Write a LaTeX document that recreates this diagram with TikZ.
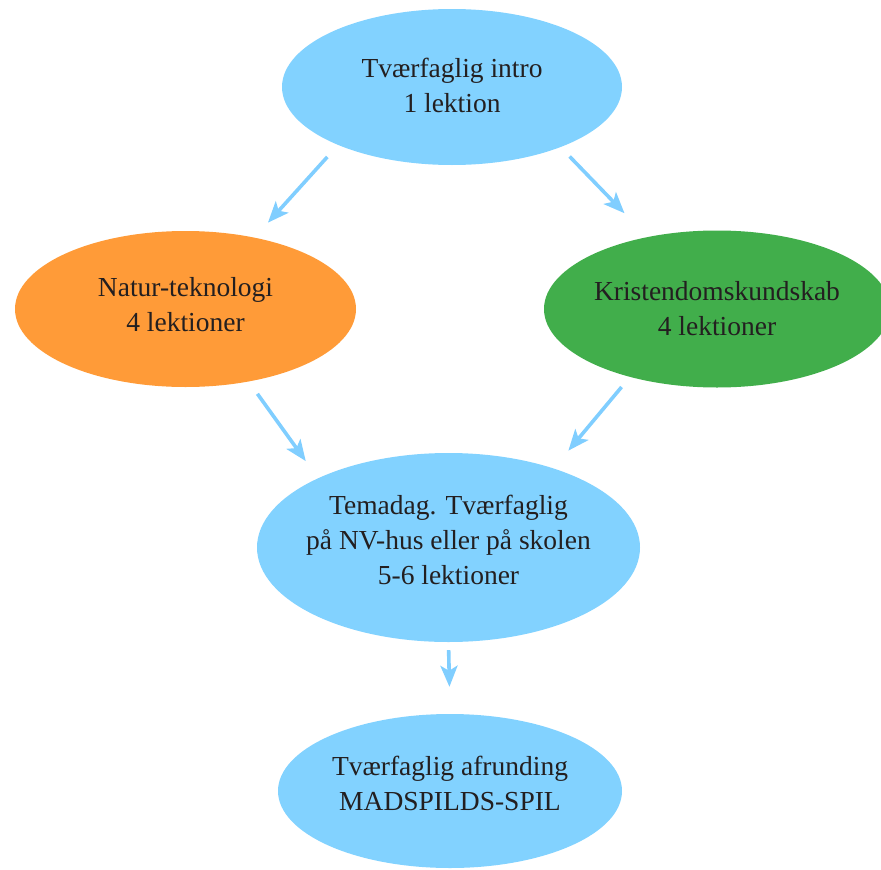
\documentclass[tikz,border=0pt]{standalone}
\usepackage{fontspec}
\setmainfont{Liberation Serif}
\usetikzlibrary{shapes,arrows.meta}

\definecolor{skyblue}{RGB}{130,210,255}
\definecolor{natorange}{RGB}{255,155,56}
\definecolor{krgreen}{RGB}{65,174,75}
\definecolor{arrowblue}{RGB}{128,206,255}
\definecolor{inkgray}{RGB}{35,31,32}

\begin{document}
\begin{tikzpicture}[
    x=1pt, y=-1pt,
    text centered,
	bubble/.style={
	  ellipse,
	  inner xsep=-50pt,
	  inner ysep=0pt,
	  align=center,
	  text=inkgray,
	  font=\fontsize{27.5}{35}\selectfont
	},
 	flow/.style={draw=arrowblue, line width=3.6pt, -{Stealth[length=21pt,width=17pt,inset=5pt]}}
	]
	\useasboundingbox (0,0) rectangle (881,870);
	\clip (0,0) rectangle (881,870);
	\node [bubble, fill=skyblue, minimum width=340pt, minimum height=156pt, text depth=3pt] at (452,87) (intro) {Tværfaglig intro\\1 lektion};
	\node [bubble, fill=natorange, minimum width=341pt, minimum height=156pt, text depth=10pt] at (185.5,309) (natur) {Natur-teknologi\\4 lektioner};
	\node [bubble, fill=krgreen, minimum width=346pt, minimum height=157pt] at (717,309) (kristen) {Kristendomskundskab\\4 lektioner};
	\node [bubble, fill=skyblue, minimum width=383pt, minimum height=189pt, text depth=15pt] at (448.5,547.5) (temadag) {Temadag. Tværfaglig\\på NV-hus eller på skolen\\5-6 lektioner};
	\node [bubble, fill=skyblue, minimum width=344pt, minimum height=154pt, text depth=16pt] at (450,791) (afrunding) {Tværfaglig afrunding\\MADSPILDS-SPIL};
	\draw[flow, shorten <=16pt, shorten >=20pt] (intro.207) -- (natur.46);
	\draw[flow, shorten <=13pt, shorten >=33pt] (intro.331) -- (kristen.134);
	\draw[flow, shorten <=15pt, shorten >=21pt] (natur.311) -- (temadag.152);
	\draw[flow, shorten <=13pt, shorten >=23pt] (kristen.218) -- (temadag.37);
	\draw[flow, shorten <=8pt, shorten >=27pt] (temadag.south) -- (afrunding.north);
\end{tikzpicture}
\end{document}
